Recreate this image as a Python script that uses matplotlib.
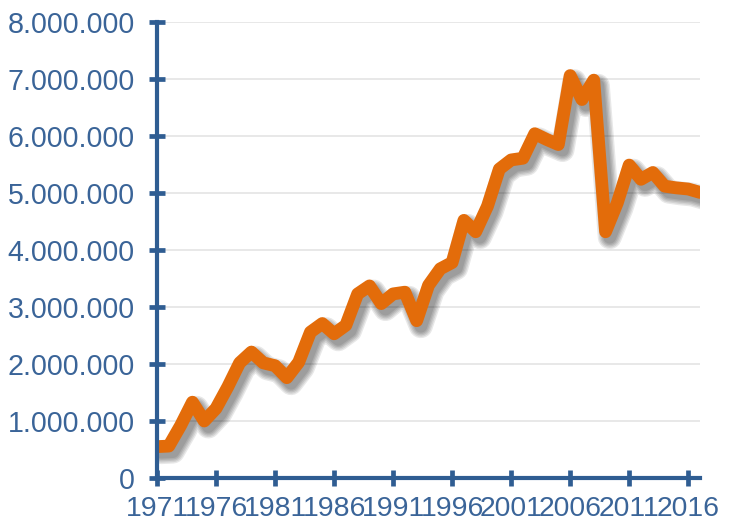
import matplotlib
matplotlib.use("Agg")
import matplotlib.pyplot as plt
import matplotlib.patheffects as pe
from matplotlib.ticker import FuncFormatter

years = list(range(1971, 2018))
values = [
    550000, 560000, 920000, 1330000, 1000000, 1220000, 1600000, 2020000, 2210000, 2020000,
    1970000, 1760000, 2030000, 2560000, 2710000, 2530000, 2680000, 3230000, 3370000, 3060000,
    3230000, 3260000, 2760000, 3380000, 3670000, 3780000, 4520000, 4320000, 4770000, 5420000,
    5580000, 5610000, 6040000, 5940000, 5850000, 7060000, 6640000, 6980000, 4320000, 4830000,
    5490000, 5240000, 5360000, 5120000, 5090000, 5070000, 5010000,
]
xtick_years = [1971, 1976, 1981, 1986, 1991, 1996, 2001, 2006, 2011, 2016]
ytick_values = [0, 1000000, 2000000, 3000000, 4000000, 5000000, 6000000, 7000000, 8000000]

axis_color = "#2F5D92"
text_color = "#3A6498"
line_color = "#E36C0A"

plt.rcParams["font.family"] = ["Liberation Sans", "DejaVu Sans"]

fig = plt.figure(figsize=(7.34, 5.22), dpi=100)
ax = fig.add_axes([157 / 734, 44 / 522, (700 - 157) / 734, (478 - 22) / 522])

lw = 9.2
shadows = [pe.SimpleLineShadow(offset=(3, -4), shadow_color="black", alpha=0.09, linewidth=lw + w)
           for w in (8, 6, 4, 2, 0)]
ax.plot(years, values, color=line_color, linewidth=lw, solid_capstyle="round",
        solid_joinstyle="round", zorder=3,
        path_effects=shadows + [pe.Normal()])

ax.set_xlim(1971, 2017)
ax.set_ylim(0, 8000000)
ax.set_xticks(xtick_years)
ax.set_xticklabels([str(y) for y in xtick_years])
ax.set_yticks(ytick_values)
ax.yaxis.set_major_formatter(FuncFormatter(lambda v, p: f"{int(v):,}".replace(",", ".")))

ax.grid(axis="y", color="#E6E6E6", linewidth=1.3, zorder=0)
ax.set_axisbelow(True)

for s in ("top", "right"):
    ax.spines[s].set_visible(False)
for s in ("left", "bottom"):
    ax.spines[s].set_color(axis_color)
    ax.spines[s].set_linewidth(3.0)
    ax.spines[s].set_zorder(4)

ax.tick_params(axis="both", direction="inout", length=12, width=3.4, color=axis_color,
               labelcolor=text_color, labelsize=20.6)
ax.tick_params(axis="y", pad=10)
ax.tick_params(axis="x", pad=7, labelsize=20.4)
for t in ax.get_xticklabels() + ax.get_yticklabels():
    t.set_clip_on(False)

fig.savefig("out.png", dpi=100)
